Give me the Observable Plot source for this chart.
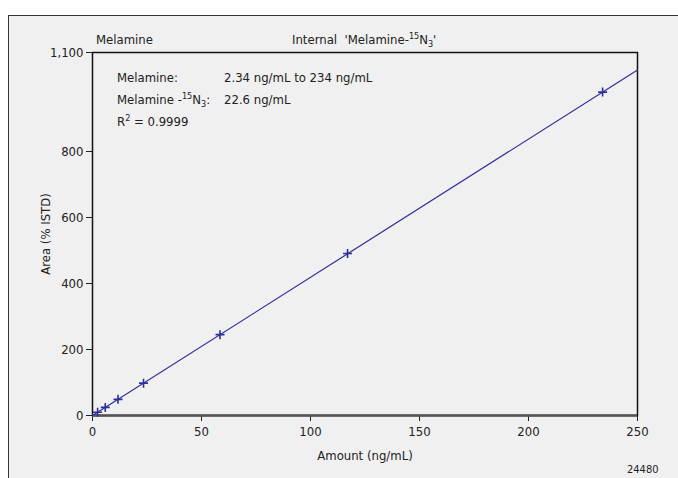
<!DOCTYPE html>
<html>
<head>
<meta charset="utf-8">
<script src="https://cdn.jsdelivr.net/npm/d3@7"></script>
<script src="https://cdn.jsdelivr.net/npm/@observablehq/plot@0.6"></script>
<style>
  html, body { margin: 0; padding: 0; background: #fff; width: 678px; height: 478px; overflow: hidden; }
  #box { position: absolute; left: 8px; top: 15px; width: 720px; height: 520px; border: 1.5px solid #333; background: #f0f0f0; }
  #chart { position: absolute; left: 0; top: 0; }
  .t { position: absolute; font-family: "Liberation Sans Narrow", "DejaVu Sans Condensed", "Roboto Condensed", sans-serif; font-size: 13px; color: #222; white-space: nowrap; line-height: 1; }
  .t sup, .t sub { font-size: 9px; line-height: 0; }
  .t sup { vertical-align: 5px; }
  .t sub { vertical-align: -3px; }
  svg text { font-family: "Liberation Sans Narrow", "DejaVu Sans Condensed", sans-serif; }
</style>
</head>
<body>
<div id="box"></div>
<div id="chart"></div>
<div class="t" style="left:96px; top:33px;">Melamine</div>
<div class="t" style="left:292px; top:33px;">Internal &nbsp;'Melamine-<sup>15</sup>N<sub>3</sub>'</div>
<div class="t" style="left:117px; top:71px;">Melamine:</div>
<div class="t" style="left:224px; top:71px;">2.34 ng/mL to 234 ng/mL</div>
<div class="t" style="left:117px; top:93px;">Melamine -<sup>15</sup>N<sub>3</sub>:</div>
<div class="t" style="left:224px; top:93px;">22.6 ng/mL</div>
<div class="t" style="left:117px; top:115px;">R<sup>2</sup> = 0.9999</div>
<div class="t" style="left:627px; top:464px; font-size:11px;">24480</div>
<script>
// Calibration points
const amounts = [2.34, 5.85, 11.7, 23.4, 58.5, 117, 234];
const areas = [9.8, 24.5, 49, 98, 245, 491, 980];
// Fitted line endpoints
const fitAmounts = [0, 250];
const fitAreas = [0, 1047];
const xTicks = [0, 50, 100, 150, 200, 250];
const yTicks = [0, 200, 400, 600, 800, 1100];

const points = amounts.map((x, i) => ({x, y: areas[i]}));
const fit = fitAmounts.map((x, i) => ({x, y: fitAreas[i]}));
const blue = "#2e2e9a";

const plot = Plot.plot({
  width: 678,
  height: 478,
  marginLeft: 92,
  marginRight: 41,
  marginTop: 52,
  marginBottom: 63,
  style: {background: "transparent", fontSize: "13px", color: "#222", fontFamily: "'Liberation Sans Narrow', 'DejaVu Sans Condensed', sans-serif"},
  x: {domain: [0, 250], ticks: xTicks, tickSize: 6, tickPadding: 5, label: "Amount (ng/mL)", labelAnchor: "center", labelArrow: "none", labelOffset: 44},
  y: {domain: [0, 1100], ticks: yTicks, tickFormat: d3.format(","), tickSize: 6, label: "Area (% ISTD)", labelAnchor: "center", labelArrow: "none", labelOffset: 52},
  marks: [
    Plot.frame({stroke: "#111", strokeWidth: 1.5}),
    Plot.ruleY([0], {stroke: "#555", strokeWidth: 2.5}),
    Plot.line(fit, {x: "x", y: "y", stroke: blue, strokeWidth: 1.2}),
    Plot.dot(points, {x: "x", y: "y", symbol: "plus", r: 3, stroke: blue, strokeWidth: 1.6})
  ]
});
document.getElementById("chart").appendChild(plot);
</script>
</body>
</html>
